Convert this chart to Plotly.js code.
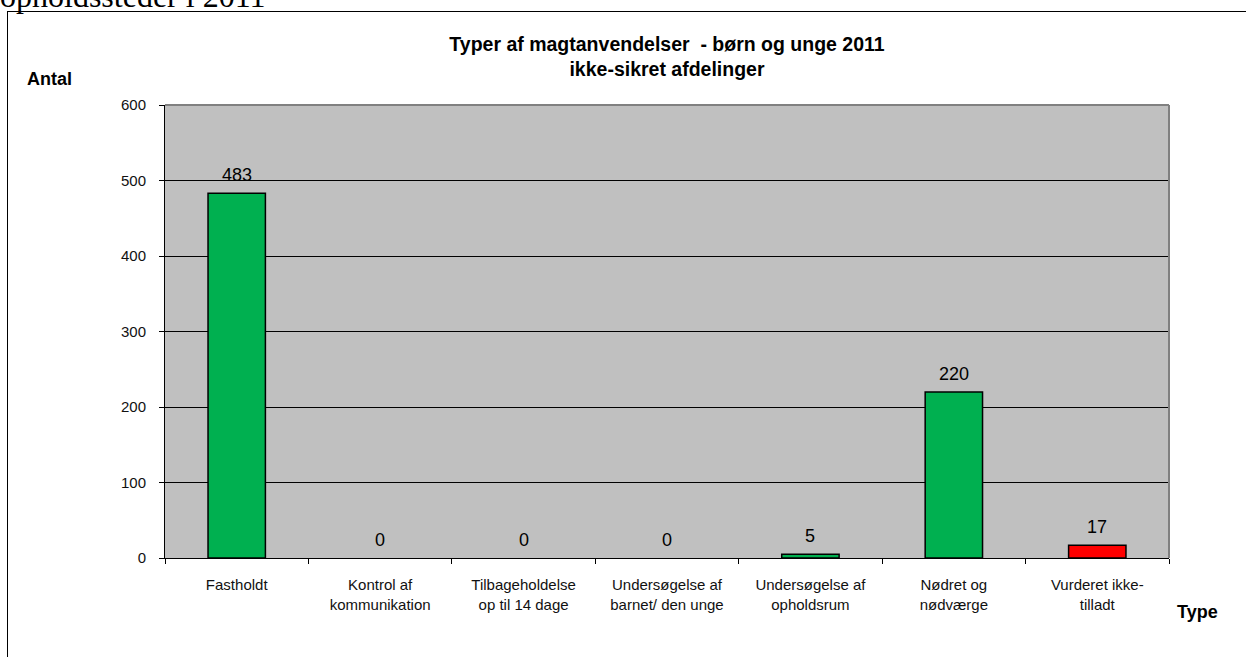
<!DOCTYPE html>
<html>
<head>
<meta charset="utf-8">
<script src="https://cdn.plot.ly/plotly-3.0.1.min.js"></script>
<style>
  html, body { margin: 0; padding: 0; background: #fff; overflow: hidden; }
  #wrap { position: relative; width: 1246px; height: 657px; }
  #frame { position: absolute; left: 7px; top: 11px; width: 1300px; height: 700px; border: 1.5px solid #000; box-sizing: border-box; pointer-events: none; z-index: 2; }
  #doctext { position: absolute; left: 0px; top: -22px; font-family: 'Liberation Serif', 'Times New Roman', serif; font-size: 32px; color: #000; white-space: nowrap; z-index: 3; }
  #chart { position: absolute; left: 0; top: 0; width: 1246px; height: 657px; }
</style>
</head>
<body>
<div id="wrap">
  <div id="chart"></div>
  <div id="frame"></div>
  <div id="doctext">opholdssteder i 2011</div>
</div>
<script>
const titleLines = ["Typer af magtanvendelser  - børn og unge 2011", "ikke-sikret afdelinger"];
const categories = [
  "Fastholdt",
  "Kontrol af<br>kommunikation",
  "Tilbageholdelse<br>op til 14 dage",
  "Undersøgelse af<br>barnet/ den unge",
  "Undersøgelse af<br>opholdsrum",
  "Nødret og<br>nødværge",
  "Vurderet ikke-<br>tilladt"
];
const values = [483, 0, 0, 0, 5, 220, 17];
const barColors = ["#00B050", "#00B050", "#00B050", "#00B050", "#00B050", "#00B050", "#FF0000"];
const yTicks = [0, 100, 200, 300, 400, 500, 600];

const font = "'Liberation Sans', Arial, sans-serif";

const trace = {
  type: "bar",
  x: categories,
  y: values,
  width: 0.4,
  marker: { color: barColors, line: { color: "#000", width: values.map(v => v > 0 ? 1.5 : 0) } },
  hoverinfo: "x+y"
};

const annotations = categories.map((c, i) => ({
  x: c, y: values[i], xref: "x", yref: "y",
  text: String(values[i]), showarrow: false,
  yanchor: "bottom", yshift: 6,
  font: { family: font, size: 18, color: "#000" }
}));
annotations.push({
  xref: "paper", yref: "paper", x: -0.139, y: 1.057, xanchor: "left", yanchor: "middle",
  text: "<b>Antal</b>", showarrow: false, font: { family: font, size: 18, color: "#000" }
});
annotations.push({
  xref: "paper", yref: "paper", x: 1.006, y: -0.119, xanchor: "left", yanchor: "middle",
  text: "<b>Type</b>", showarrow: false, font: { family: font, size: 18, color: "#000" }
});

const layout = {
  width: 1246, height: 657,
  margin: { l: 165, r: 77, t: 105, b: 99 },
  paper_bgcolor: "rgba(0,0,0,0)",
  plot_bgcolor: "#C0C0C0",
  showlegend: false,
  title: {
    text: "<b>" + titleLines.join("<br>") + "</b>",
    font: { family: font, size: 19.5, color: "#000" },
    x: 0.5, xanchor: "center", xref: "paper",
    y: 1 - 51 / 657, yanchor: "middle", yref: "container"
  },
  xaxis: {
    type: "category",
    showgrid: false,
    showline: true, linecolor: "#000", linewidth: 1,
    ticks: "outside", tickson: "boundaries", ticklen: 5, tickcolor: "#000",
    tickfont: { family: font, size: 15, color: "#111" },
    ticklabelstandoff: 13,
    fixedrange: true
  },
  yaxis: {
    range: [0, 600],
    tickvals: yTicks,
    ticktext: yTicks.map(String),
    showgrid: true, gridcolor: "#000", gridwidth: 1,
    showline: true, linecolor: "#000", linewidth: 1,
    ticks: "outside", ticklen: 5, tickcolor: "#000",
    tickfont: { family: font, size: 15, color: "#111" },
    ticklabelstandoff: 10,
    zeroline: false,
    fixedrange: true
  },
  shapes: [
    { type: "line", xref: "paper", yref: "paper", x0: 0, x1: 1, y0: 1, y1: 1, line: { color: "#808080", width: 2 } },
    { type: "line", xref: "paper", yref: "paper", x0: 1, x1: 1, y0: 0, y1: 1, line: { color: "#808080", width: 2 } }
  ],
  annotations: annotations
};

Plotly.newPlot("chart", [trace], layout, { displayModeBar: false, staticPlot: true });
</script>
</body>
</html>
